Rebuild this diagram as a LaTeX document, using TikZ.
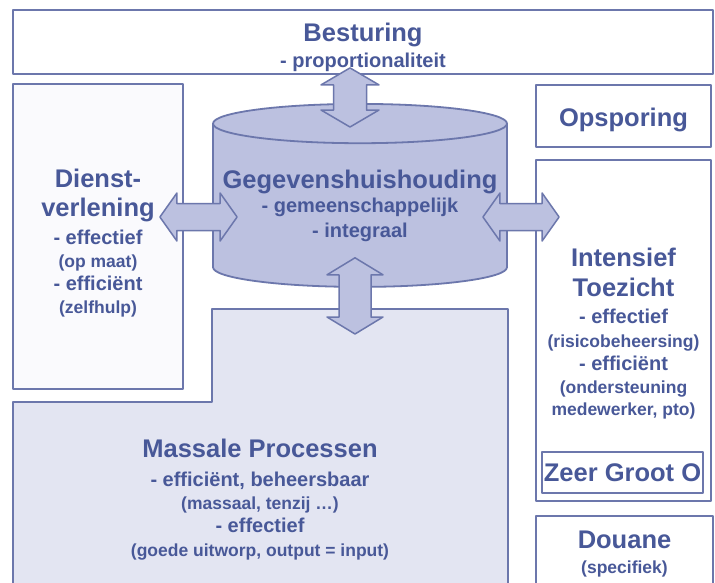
\documentclass[tikz,border=0pt]{standalone}
\usepackage{fontspec}
\setmainfont{Liberation Sans}
\usepackage{xcolor}
\usepackage{tikz}
\usetikzlibrary{calc,positioning,shapes.geometric}
\definecolor{inkblue}{HTML}{485898}
\definecolor{edgeblue}{HTML}{6C77AC}
\definecolor{lavender}{HTML}{BCC1E0}
\definecolor{palelav}{HTML}{E3E5F2}
\definecolor{boxwhite}{HTML}{FAFAFD}
\lineskiplimit=-40pt
\newcommand{\headfont}{\fontsize{25.5}{23}\selectfont}
\newcommand{\itemfont}{\fontsize{20}{23}\selectfont}
\newcommand{\notefont}{\fontsize{17.5}{23}\selectfont}
\newcommand{\padtop}[1]{\rule{0pt}{#1}}
\tikzset{
  org diagram/.style={
    x=1pt, y=-1pt,
    line cap=round,
    line join=round
  },
  plainbox/.style={
    draw=edgeblue,
    line width=1.8pt,
    fill=boxwhite,
    inner sep=0pt,
    align=center,
    text=inkblue,
    font=\bfseries\itemfont
  },
  massbox/.style={
    draw=edgeblue,
    line width=1.8pt,
    fill=palelav
  },
  dbcyl/.style={
    plainbox,
    cylinder,
    shape border rotate=90,
    aspect=0.143,
    fill=lavender
  },
  blockarrow/.style={
    draw=edgeblue,
    line width=1.5pt,
    fill=lavender
  }
}
% double block arrow: tip, tip, head half width, shaft half width
\newcommand{\blockarrow}[4]{%
  \coordinate (ba-a) at (#1);
  \coordinate (ba-b) at (#2);
  \coordinate (ba-c) at ($(ba-a)!17pt!(ba-b)$);
  \coordinate (ba-d) at ($(ba-b)!17pt!(ba-a)$);
  \draw[blockarrow] (ba-a) -- ($(ba-c)!#3!90:(ba-b)$) -- ($(ba-c)!#4!90:(ba-b)$)
    -- ($(ba-d)!#4!-90:(ba-a)$) -- ($(ba-d)!#3!-90:(ba-a)$) -- (ba-b)
    -- ($(ba-d)!#3!90:(ba-a)$) -- ($(ba-d)!#4!90:(ba-a)$)
    -- ($(ba-c)!#4!-90:(ba-b)$) -- ($(ba-c)!#3!-90:(ba-b)$) -- cycle;
}
\begin{document}
\begin{tikzpicture}[org diagram]
\useasboundingbox (0,0) rectangle (715,582);
\fill[white] (0,0) rectangle (715,582);
\clip (0,0) rectangle (715,582);

\node[plainbox, fill=white, minimum width=700pt, minimum height=64pt] (besturing) at (363,42)
  {\padtop{28.5pt}\headfont Besturing\\[3pt]\itemfont - proportionaliteit};
\node[plainbox, minimum width=170pt, minimum height=305pt] (dienst) at (98,236.5)
  {\padtop{31.5pt}\headfont Dienst-\\[6pt]\headfont verlening\\[5pt]\itemfont - effectief\\\notefont (op maat)\\\itemfont - effici\"ent\\\notefont (zelfhulp)};
\node[plainbox, fill=white, minimum width=175pt, minimum height=62pt] (opsporing) at (623.5,116)
  {\padtop{27pt}\headfont Opsporing};
\node[plainbox, fill=white, minimum width=175pt, minimum height=341pt] (intensief) at (623.5,330.5)
  {\padtop{25.5pt}\headfont Intensief\\[7pt]\headfont Toezicht\\[4pt]\itemfont - effectief\\[1pt]\notefont (risicobeheersing)\\\itemfont - effici\"ent\\\notefont (ondersteuning\\[-1pt]\notefont medewerker, pto)};
\node[plainbox, fill=white, line width=1.5pt, minimum width=161pt, minimum height=41pt] (zeergroot) at (622.5,472.5)
  {\headfont Zeer Groot O};
\node[plainbox, fill=white, minimum width=177pt, minimum height=74pt] (douane) at (624.5,553)
  {\padtop{20.5pt}\headfont Douane\\[2pt]\notefont (specifiek)};

% massale processen: L-vormig vlak
\draw[massbox] (212,309) -- (508,309) -- (508,600) -- (13,600) -- (13,402) -- (212,402) -- cycle;
\coordinate (masstop) at (360,309);
\node[plainbox, draw=none, fill=none] (massale) at (260,500)
  {\headfont Massale Processen\\[6pt]\itemfont - effici\"ent, beheersbaar\\\notefont (massaal, tenzij \ldots)\\\itemfont - effectief\\[1pt]\notefont (goede uitworp, output = input)};

\node[dbcyl, minimum width=294pt, minimum height=183pt, anchor=north] (db) at (360,103)
  {\headfont Gegevenshuishouding\\[1pt]\itemfont - gemeenschappelijk\\[2pt]\itemfont - integraal};

\blockarrow{$(besturing.south)+(-13,-7)$}{$(db.north)+(-10,24)$}{29pt}{16.5pt}
\blockarrow{$(db.south)+(-5,-30)$}{$(masstop)+(-5,25)$}{28pt}{16pt}
\blockarrow{$(dienst.east)+(-24,-19.5)$}{$(db.west |- dienst.east)+(25,-19.5)$}{24pt}{13.5pt}
\blockarrow{$(db.east |- dienst.east)+(-25,-19.5)$}{$(intensief.west |- dienst.east)+(24,-19.5)$}{24pt}{13.5pt}
\end{tikzpicture}
\end{document}
